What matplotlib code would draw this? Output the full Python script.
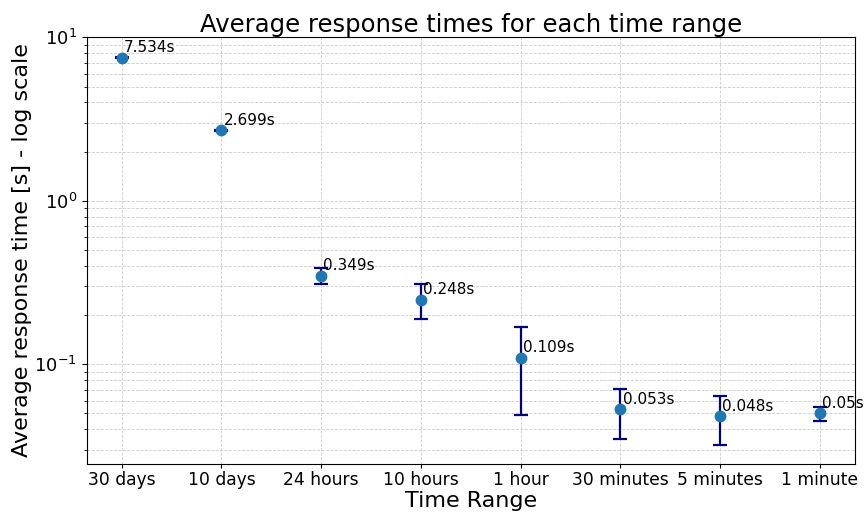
import numpy as np
import matplotlib
matplotlib.use("Agg")
from matplotlib import pyplot as plt

time_ranges = ['30 days', '10 days', '24 hours', '10 hours', '1 hour',
               '30 minutes', '5 minutes', '1 minute']
avg_times = [7.534, 2.699, 0.349, 0.248, 0.109, 0.053, 0.048, 0.050]
std_times = [0.06, 0.025, 0.04, 0.06, 0.06, 0.018, 0.016, 0.005]
labels = ['7.534s', '2.699s', '0.349s', '0.248s', '0.109s', '0.053s', '0.048s', '0.05s']

fig, ax = plt.subplots(figsize=(8.67, 5.15), dpi=100)

x = np.arange(len(time_ranges))
ax.errorbar(x, avg_times, yerr=std_times, fmt='o', color='tab:blue',
            ecolor='darkblue', elinewidth=1.6, capsize=5, capthick=1.6,
            markersize=7.5)

for xi, yi, lab in zip(x, avg_times, labels):
    ax.annotate(lab, (xi, yi), xytext=(1.5, 2), textcoords='offset points',
                ha='left', va='bottom', fontsize=11)

ax.set_yscale('log')
ax.set_ylim(0.0247, 10.05)
ax.set_xticks(x)
ax.set_xticklabels(time_ranges, fontsize=12.3)
ax.tick_params(axis='y', labelsize=13)
ax.tick_params(axis='x', length=3, pad=2.5)
ax.grid(True, which='both', linestyle='--', linewidth=0.6, color='#cccccc')
ax.set_axisbelow(True)

ax.set_title('Average response times for each time range', fontsize=17.5, pad=4)
ax.set_xlabel('Time Range', fontsize=16, labelpad=1)
ax.set_ylabel('Average response time [s] - log scale', fontsize=16, labelpad=2)

fig.subplots_adjust(left=0.10, right=0.986, top=0.928, bottom=0.10)
plt.savefig('out.png')
